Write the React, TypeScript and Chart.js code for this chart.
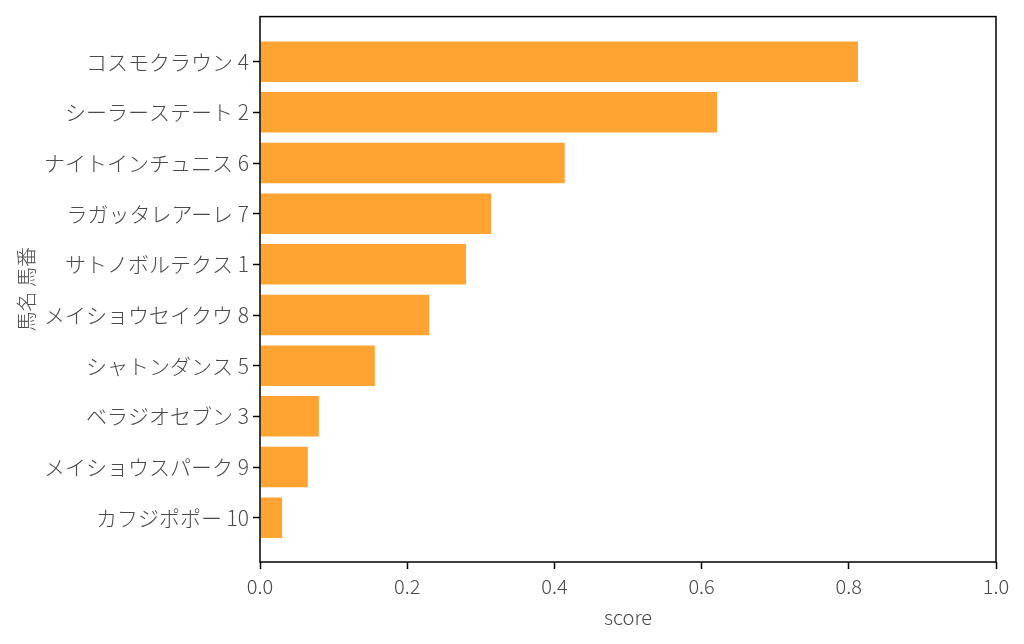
import { useEffect, useRef } from "react";
import { Chart, registerables } from "chart.js";

Chart.register(...registerables);

const horseNames = [
  "コスモクラウン 4",
  "シーラーステート 2",
  "ナイトインチュニス 6",
  "ラガッタレアーレ 7",
  "サトノボルテクス 1",
  "メイショウセイクウ 8",
  "シャトンダンス 5",
  "ベラジオセブン 3",
  "メイショウスパーク 9",
  "カフジポポー 10",
];
const scores = [0.8125, 0.621, 0.414, 0.314, 0.28, 0.23, 0.156, 0.08, 0.065, 0.03];
const xTicks = [0, 0.2, 0.4, 0.6, 0.8, 1.0];

const FONT = "'Noto Sans CJK JP', 'Noto Sans', sans-serif";
const TEXT = "#4a4a4a";

const frame = {
  id: "frame",
  afterDatasetsDraw(chart: Chart) {
    const { ctx, chartArea } = chart;
    ctx.save();
    ctx.strokeStyle = "#000";
    ctx.lineWidth = 1.5;
    ctx.strokeRect(chartArea.left, chartArea.top, chartArea.right - chartArea.left, chartArea.bottom - chartArea.top);
    ctx.restore();
  },
};

export default function App() {
  const chartRef = useRef<HTMLCanvasElement>(null);
  const chartInstance = useRef<Chart | null>(null);

  useEffect(() => {
    if (!chartRef.current) return;
    if (chartInstance.current) chartInstance.current.destroy();
    const ctx = chartRef.current.getContext("2d");
    if (!ctx) return;

    chartInstance.current = new Chart(ctx, {
      type: "bar",
      data: {
        datasets: [
          {
            label: "score",
            data: scores.map((s, i) => ({ x: s, y: i })),
            backgroundColor: "#ffa333",
            barPercentage: 0.8,
            categoryPercentage: 1,
          },
        ],
      },
      plugins: [frame],
      options: {
        indexAxis: "y",
        animation: false,
        responsive: false,
        layout: { padding: { left: 0, top: 13, right: 28, bottom: 0 } },
        scales: {
          x: {
            type: "linear",
            min: 0,
            max: 1,
            afterFit: (scale: any) => {
              scale.height = 82;
            },
            afterBuildTicks: (scale: any) => {
              scale.ticks = xTicks.map((v) => ({ value: v }));
            },
            ticks: {
              color: TEXT,
              font: { family: FONT, size: 20, weight: 300 },
              padding: 5,
              callback: (v: any) => Number(v).toFixed(1),
            },
            grid: { drawOnChartArea: false, tickLength: 7, tickColor: "#000", tickWidth: 1.5 },
            border: { display: false },
            title: {
              display: true,
              text: "score",
              color: TEXT,
              font: { family: FONT, size: 20, weight: 300 },
              padding: { top: 0, bottom: 15 },
            },
          },
          y: {
            type: "linear",
            reverse: true,
            offset: false,
            min: -0.89,
            max: 9.875,
            afterFit: (scale: any) => {
              scale.width = 260;
            },
            afterBuildTicks: (scale: any) => {
              scale.ticks = horseNames.map((_, i) => ({ value: i }));
            },
            ticks: {
              color: TEXT,
              font: { family: FONT, size: 21, weight: 300 },
              padding: 4,
              callback: (v: any) => horseNames[Number(v)] ?? "",
            },
            grid: { offset: false, drawOnChartArea: false, tickLength: 7, tickColor: "#000", tickWidth: 1.5 },
            border: { display: false },
            title: {
              display: true,
              text: "馬名 馬番",
              color: TEXT,
              font: { family: FONT, size: 20, weight: 300 },
              padding: { top: 14, bottom: 0 },
            },
          },
        },
        plugins: {
          legend: { display: false },
          tooltip: { enabled: false },
        },
      },
    });

    return () => {
      if (chartInstance.current) chartInstance.current.destroy();
    };
  }, []);

  return (
    <div style={{ position: "absolute", left: 0, top: 0, width: 1024, height: 644, background: "#fff" }}>
      <canvas ref={chartRef} width={1024} height={644} style={{ width: 1024, height: 644 }} />
    </div>
  );
}
